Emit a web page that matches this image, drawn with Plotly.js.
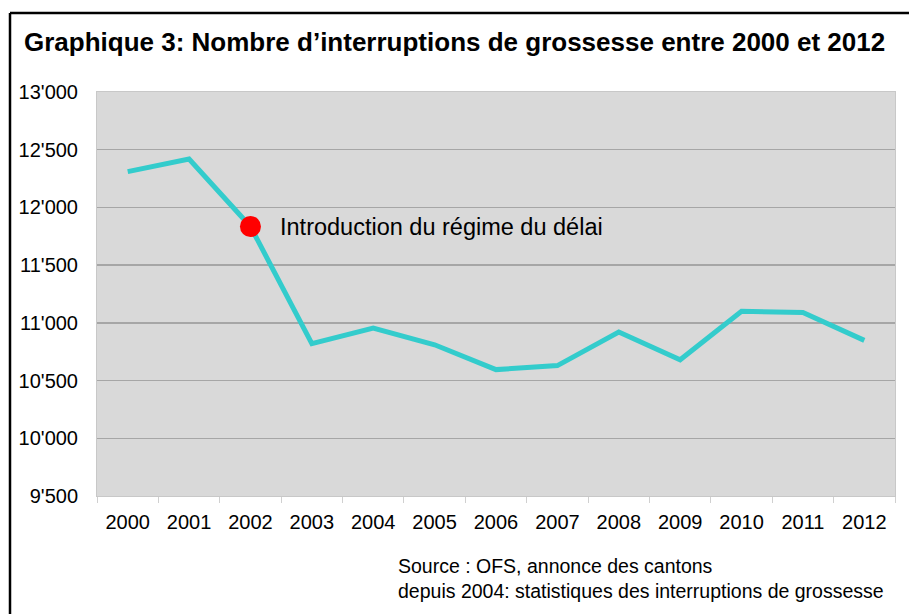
<!DOCTYPE html>
<html>
<head>
<meta charset="utf-8">
<script src="https://cdn.plot.ly/plotly-3.0.1.min.js"></script>
<style>html,body{margin:0;padding:0;background:#fff;}#chart{width:909px;height:614px;}</style>
</head>
<body>
<div id="chart"></div>
<script>
const years = ["2000","2001","2002","2003","2004","2005","2006","2007","2008","2009","2010","2011","2012"];
const interruptions = [12310, 12420, 11835, 10820, 10955, 10810, 10595, 10630, 10920, 10680, 11100, 11090, 10848];
const markerYear = ["2002"];
const markerValue = [11835];
const markerLabel = "Introduction du régime du délai";
const chartTitle = "Graphique 3: Nombre d’interruptions de grossesse entre 2000 et 2012";
const sourceText = "Source : OFS, annonce des cantons<br>depuis 2004: statistiques des interruptions de grossesse";

const W = 909, H = 614;
const m = {l: 97, r: 14, t: 92, b: 118};
const pw = W - m.l - m.r, ph = H - m.t - m.b;
const px = X => (X - m.l) / pw;
const py = Y => (H - m.b - Y) / ph;

const data = [
  {
    type: "scatter", mode: "lines", x: years, y: interruptions,
    line: {color: "#33CCCC", width: 5}, hoverinfo: "x+y"
  },
  {
    type: "scatter", mode: "markers", x: markerYear, y: markerValue,
    marker: {color: "#FF0000", size: 21, line: {width: 0}}, hoverinfo: "x+y"
  }
];

const layout = {
  width: W, height: H, margin: m,
  paper_bgcolor: "#ffffff", plot_bgcolor: "#D9D9D9",
  showlegend: false,
  separators: ".'",
  font: {family: "Liberation Sans, Arial, sans-serif", color: "#000"},
  title: {
    text: "<b>" + chartTitle + "</b>",
    font: {size: 26, color: "#000", family: "Liberation Sans, Arial, sans-serif"},
    xref: "container", yref: "container",
    x: 24 / W, xanchor: "left", y: 1 - 42 / H, yanchor: "middle"
  },
  xaxis: {
    type: "category", range: [-0.5, 12.5],
    showgrid: false, tickson: "boundaries", ticks: "outside", ticklen: 6,
    tickcolor: "#D0D0D0", showline: true, linecolor: "#C8C8C8", mirror: true,
    tickfont: {size: 20, color: "#000"}, zeroline: false, fixedrange: true,
    ticklabelstandoff: 8
  },
  yaxis: {
    range: [9500, 13000], dtick: 500, tick0: 9500,
    tickformat: ",d", separatethousands: true,
    showgrid: true, gridcolor: "#A6A6A6", gridwidth: 1.3,
    showline: true, linecolor: "#C8C8C8", mirror: true,
    ticks: "", ticklen: 0, tickfont: {size: 20, color: "#000"},
    zeroline: false, fixedrange: true, ticklabelstandoff: 14
  },
  annotations: [
    {
      x: years.indexOf(markerYear[0]), y: markerValue[0], xref: "x", yref: "y",
      text: markerLabel, showarrow: false, xanchor: "left", yanchor: "middle",
      xshift: 28, yshift: -1, font: {size: 23.5, color: "#000"}
    },
    {
      x: px(396), y: py(578), xref: "paper", yref: "paper",
      text: sourceText, showarrow: false, xanchor: "left", yanchor: "middle",
      align: "left", font: {size: 19.5, color: "#000"}
    }
  ],
  shapes: [
    {type: "line", xref: "paper", yref: "paper", x0: px(10), x1: px(915), y0: py(13), y1: py(13), line: {color: "#000", width: 2.5}},
    {type: "line", xref: "paper", yref: "paper", x0: px(10), x1: px(10), y0: py(13), y1: py(620), line: {color: "#000", width: 2.5}}
  ]
};

Plotly.newPlot("chart", data, layout, {displayModeBar: false, staticPlot: true});
</script>
</body>
</html>
